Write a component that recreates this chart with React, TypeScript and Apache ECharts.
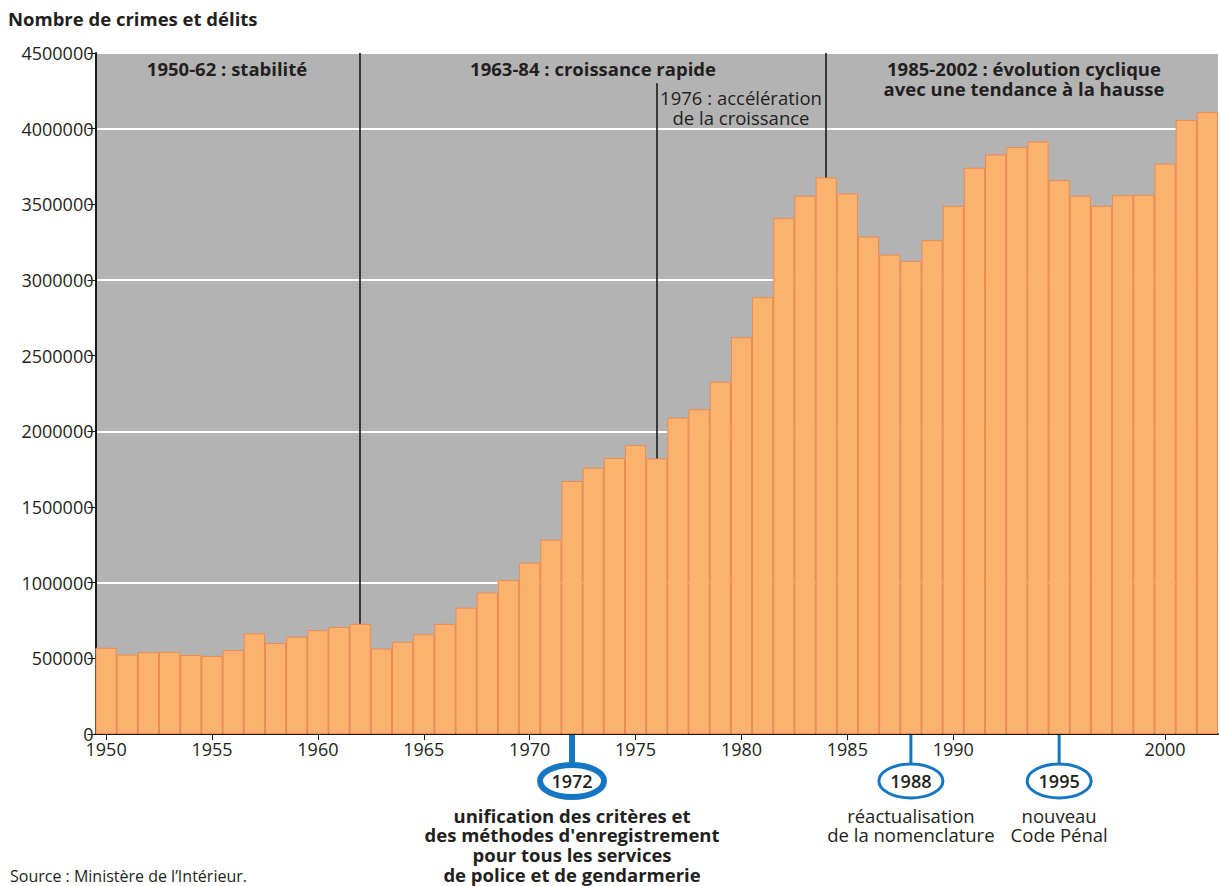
import React, { useEffect, useRef } from "react";
import * as echarts from "echarts";

const years = [
  "1950","1951","1952","1953","1954","1955","1956","1957","1958","1959",
  "1960","1961","1962","1963","1964","1965","1966","1967","1968","1969",
  "1970","1971","1972","1973","1974","1975","1976","1977","1978","1979",
  "1980","1981","1982","1983","1984","1985","1986","1987","1988","1989",
  "1990","1991","1992","1993","1994","1995","1996","1997","1998","1999",
  "2000","2001","2002",
];

const crimes = [
  570000, 525000, 540000, 543000, 522000, 516000, 555000, 665000, 601000, 643000,
  686000, 707000, 728000, 565000, 610000, 659000, 728000, 835000, 935000, 1017000,
  1132000, 1284000, 1672000, 1760000, 1824000, 1909000, 1821000, 2091000, 2146000, 2328000,
  2622000, 2886000, 3411000, 3557000, 3678000, 3572000, 3287000, 3168000, 3126000, 3263000,
  3490000, 3742000, 3830000, 3879000, 3915000, 3660000, 3557000, 3490000, 3560000, 3563000,
  3769000, 4058000, 4109000,
];

const labeledYears = ["1950","1955","1960","1965","1970","1975","1980","1985","1990","2000"];
const periodYears = ["1962", "1984"];
const accelYear = "1976";
const accelTop = 4300000;
const milestoneYears = ["1972", "1988", "1995"];
const milestoneTexts = [
  ["unification des critères et", "des méthodes d'enregistrement", "pour tous les services", "de police et de gendarmerie"],
  ["réactualisation", "de la nomenclature"],
  ["nouveau", "Code Pénal"],
];

const FONT = "'Open Sans', 'Noto Sans', sans-serif";
const BLUE = "#1577c1";
const INK = "#231f20";

export default function App() {
  const ref = useRef<HTMLDivElement>(null);

  useEffect(() => {
    if (!ref.current) return;
    const chart = echarts.init(ref.current, null, { renderer: "svg" });
    const val = (y: string) => crimes[years.indexOf(y)];

    chart.setOption({
      animation: false,
      textStyle: { fontFamily: FONT },
      grid: {
        left: 95.5,
        right: 2,
        top: 53,
        bottom: 152,
        show: true,
        backgroundColor: "#b3b3b3",
        borderWidth: 0,
        containLabel: false,
        outerBoundsMode: "none",
      },
      xAxis: {
        type: "category",
        data: years,
        axisLine: { show: true, lineStyle: { color: "#1a1a1a", width: 2 } },
        axisTick: {
          show: true,
          alignWithLabel: true,
          length: 6,
          lineStyle: { color: "#1a1a1a", width: 1 },
          interval: (i: number, v: string) => labeledYears.includes(v),
        },
        axisLabel: {
          interval: (i: number, v: string) => labeledYears.includes(v),
          fontSize: 18,
          lineHeight: 18,
          color: INK,
          fontFamily: FONT,
          margin: 6,
        },
        splitLine: { show: false },
      },
      yAxis: [
        {
          type: "value",
          min: 0,
          max: 4500000,
          interval: 500000,
          axisLine: { show: true, lineStyle: { color: "#1a1a1a", width: 2 } },
          axisTick: { show: true, length: 8, lineStyle: { color: "#1a1a1a", width: 1 } },
          axisLabel: {
            fontSize: 18,
            lineHeight: 16,
            color: INK,
            fontFamily: FONT,
            margin: 2,
            formatter: (v: number) => String(v),
          },
          splitLine: { show: false },
        },
        {
          type: "value",
          min: 0,
          max: 4500000,
          interval: 1000000,
          position: "left",
          axisLine: { show: false },
          axisTick: { show: false },
          axisLabel: { show: false },
          splitLine: { show: true, lineStyle: { color: "#ffffff", width: 2 } },
        },
      ],
      series: [
        {
          type: "bar",
          data: crimes,
          barCategoryGap: 0,
          itemStyle: { color: "#fbb26f", borderColor: "#ee8a4e", borderWidth: 1 },
          markLine: {
            silent: true,
            symbol: "none",
            label: { show: false },
            lineStyle: { color: "#1a1a1a", width: 1.6, type: "solid" },
            data: [
              ...periodYears.map((y) => [
                { coord: [y, 4500000] },
                { coord: [y, val(y)] },
              ]),
              [{ coord: [accelYear, accelTop] }, { coord: [accelYear, val(accelYear)] }],
            ],
          },
        },
      ],
    });

    const px = (y: string) => chart.convertToPixel({ xAxisIndex: 0 }, y) as number;
    const graphics: any[] = [];

    const txt = (text: string, x: number, y: number, size: number, weight: any, align = "center", fill = INK) => ({
      type: "text",
      x,
      y,
      silent: true,
      style: {
        text,
        fontFamily: FONT,
        fontSize: size,
        fontWeight: weight,
        fill,
        align,
        textAlign: align,
        verticalAlign: "middle",
        textVerticalAlign: "middle",
        lineHeight: Math.round(size),
      },
    });

    graphics.push(txt("Nombre de crimes et délits", 8, 18, 18.5, "bold", "left"));
    graphics.push(txt("1950-62 : stabilité", 227, 68, 18.5, "bold"));
    graphics.push(txt("1963-84 : croissance rapide", 593, 68, 18.5, "bold"));
    graphics.push(txt("1976 : accélération", 741, 97, 18.5, "normal"));
    graphics.push(txt("de la croissance", 741, 117, 18.5, "normal"));
    graphics.push(txt("1985-2002 : évolution cyclique", 1024, 68, 18.5, "bold"));
    graphics.push(txt("avec une tendance à la hausse", 1024, 88, 18.5, "bold"));
    graphics.push(txt("Source : Ministère de l’Intérieur.", 10, 876, 16, "normal", "left"));
    graphics.push({
      type: "text",
      x: 1212,
      y: 576,
      rotation: Math.PI / 2,
      silent: true,
      style: {
        text: "© Claire CUNTY, 2003.",
        fontFamily: FONT,
        fontSize: 11.5,
        fill: INK,
        align: "center",
        textAlign: "center",
        verticalAlign: "middle",
        textVerticalAlign: "middle",
      },
    });

    milestoneYears.forEach((y, i) => {
      const x = px(y);
      const thick = i === 0;
      graphics.push({
        type: "line",
        silent: true,
        shape: { x1: x, y1: 735, x2: x, y2: thick ? 764 : 765 },
        style: { stroke: BLUE, lineWidth: thick ? 6 : 3 },
      });
      graphics.push({
        type: "ellipse",
        silent: true,
        shape: { cx: x, cy: 781, rx: 32, ry: thick ? 16 : 17 },
        style: { fill: "#ffffff", stroke: BLUE, lineWidth: thick ? 6 : 3 },
      });
      graphics.push(txt(y, x, 781, 18, 600));
      milestoneTexts[i].forEach((line, j) => {
        graphics.push(txt(line, x, 815 + j * 19.7, 18.5, thick ? "bold" : "normal"));
      });
    });

    chart.setOption({ graphic: graphics });

    return () => chart.dispose();
  }, []);

  return (
    <div
      ref={ref}
      style={{ position: "absolute", left: 0, top: 0, width: 1220, height: 886 }}
    />
  );
}
